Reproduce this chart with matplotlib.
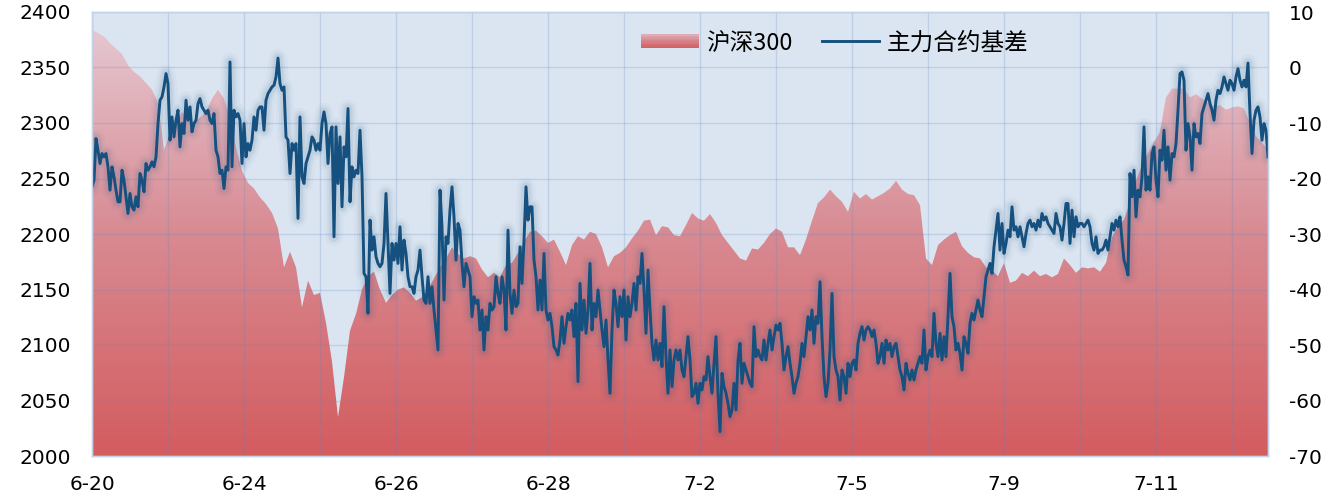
import numpy as np
import matplotlib
matplotlib.use("Agg")
import matplotlib.pyplot as plt
from matplotlib.colors import LinearSegmentedColormap
from matplotlib.patches import Rectangle
from matplotlib.legend_handler import HandlerBase

# ---------------- data ----------------
tick_labels = ['6-20', '6-24', '6-26', '6-28', '7-2', '7-5', '7-9', '7-11']
n_days = 15.47          # trading days covered (6-20 open ... 7-12 morning)

series_names = ['沪深300', '主力合约基差']

hs300 = [
    2384, 2381, 2378, 2372, 2367, 2362, 2352, 2346, 2342, 2336,
    2330, 2318, 2276, 2290, 2300, 2310, 2304, 2300, 2305, 2310,
    2322, 2330, 2322, 2305, 2278, 2257, 2246, 2241, 2233, 2227,
    2219, 2205, 2170, 2184, 2170, 2134, 2158, 2145, 2147, 2120,
    2085, 2035, 2071, 2113, 2128, 2150, 2162, 2166, 2150, 2138,
    2145, 2150, 2152, 2147, 2140, 2143, 2150, 2160, 2170, 2178,
    2188, 2182, 2178, 2180, 2178, 2168, 2161, 2165, 2161, 2172,
    2174, 2183, 2193, 2202, 2203, 2198, 2192, 2195, 2184, 2172,
    2190, 2198, 2195, 2202, 2200, 2188, 2170, 2180, 2183, 2188,
    2196, 2203, 2212, 2213, 2199, 2207, 2206, 2199, 2198, 2208,
    2219, 2214, 2212, 2218, 2210, 2199, 2192, 2185, 2178, 2176,
    2187, 2186, 2192, 2200, 2205, 2202, 2188, 2188, 2181, 2195,
    2212, 2228, 2233, 2240, 2234, 2229, 2220, 2238, 2232, 2236,
    2231, 2234, 2237, 2241, 2248, 2240, 2236, 2235, 2226, 2178,
    2172, 2190, 2195, 2199, 2202, 2189, 2183, 2179, 2178, 2170,
    2167, 2162, 2174, 2156, 2158, 2165, 2162, 2167, 2162, 2164,
    2161, 2164, 2178, 2172, 2165, 2170, 2169, 2170, 2166, 2174,
    2197, 2207, 2213, 2228, 2248, 2262, 2273, 2283, 2292, 2323,
    2331, 2331, 2331, 2323, 2326, 2322, 2318, 2315, 2316, 2312,
    2314, 2315, 2313, 2300, 2288, 2282, 2276,
]

basis = [
    # 6-20 .. 6-24
    -21.5, -20.3, -12.8, -14.9, -17.3, -15.5, -16.1, -15.5, -17.9, -22.1,
    -17.9, -19.7, -22.1, -24.2, -24.2, -18.5, -20.3, -23.3, -26.3, -22.7,
    -25.1, -25.7, -23.3, -25.1, -19.1, -20.3, -22.4, -17.3, -18.5, -17.9,
    -17.0, -17.9, -16.1, -10.1, -5.9, -5.3, -3.5, -1.1, -2.9, -13.1,
    -8.9, -12.5, -9.5, -7.7, -14.3, -10.1, -11.9, -5.9, -9.5, -7.1,
    -11.6, -10.1, -9.5, -6.5, -5.6, -7.1, -7.7, -8.3, -7.7, -9.5,
    -10.1, -8.3, -14.9, -16.1, -19.1, -18.5, -21.8, -17.9, -18.5, 1.0,
    -17.9, -7.7, -8.9, -8.3, -9.5, -17.3, -10.1, -16.1, -13.7, -14.9,
    -13.1, -8.9, -11.3, -7.7, -7.1, -7.1, -11.3, -5.9, -4.7, -4.1,
    -3.5, -3.2, -1.7, 1.7, -2.9, -4.1, -3.5, -12.5,
    # 6-24 .. 6-27
    -13.1, -19.1, -13.7, -14.9, -13.7, -27.2, -8.9, -19.7, -20.9, -17.3,
    -16.1, -14.9, -12.5, -13.1, -14.9, -13.7, -14.9, -10.1, -8.0, -10.1,
    -17.3, -11.9, -10.7, -30.5, -10.7, -20.9, -12.5, -25.1, -14.3, -16.1,
    -7.4, -24.2, -17.9, -19.7, -18.5, -19.1, -11.3, -19.7, -37.1, -37.7,
    -44.3, -27.5, -32.9, -30.5, -34.1, -35.3, -35.9, -35.3, -31.7, -22.7,
    -31.7, -40.7, -31.7, -34.7, -31.7, -35.3, -28.7, -36.5, -31.1, -33.5,
    -37.7, -39.5, -39.5, -40.7, -37.7, -36.5, -32.9, -37.7, -41.9, -42.5,
    -37.7, -42.5, -39.5, -43.7, -47.3, -50.9, -22.1, -28.7, -41.9, -30.5,
    -31.7, -25.7, -21.5, -26.9, -34.7, -28.1, -29.3, -35.3, -39.5, -35.3,
    -36.5, -37.7, -44.9, -41.3, -42.5, -41.9,
    # 6-27 .. 7-1
    -47.3, -43.7, -50.9, -44.9, -47.3, -42.5, -43.7, -43.1, -37.7, -40.7,
    -42.5, -37.7, -40.1, -47.3, -29.3, -40.7, -44.3, -40.1, -43.1, -42.5,
    -32.3, -38.9, -31.1, -21.5, -27.5, -25.1, -25.1, -34.7, -37.7, -43.7,
    -38.3, -43.7, -33.5, -43.7, -45.5, -44.3, -46.7, -50.3, -50.9, -51.8,
    -49.1, -44.9, -49.7, -46.7, -44.3, -45.5, -43.7, -48.5, -42.5, -56.6,
    -38.9, -47.3, -41.9, -47.9, -43.7, -35.3, -47.3, -42.5, -44.9, -40.1,
    -43.7, -47.3, -50.3, -45.5, -52.7, -58.7, -47.3, -40.1, -42.5, -46.7,
    -41.3, -44.9, -40.1, -49.1, -41.3, -44.9, -42.5, -38.9, -43.7, -37.7,
    -38.9, -33.5, -40.1, -47.9, -36.5, -43.7, -49.7, -52.7, -49.1, -52.7,
    -49.7, -53.9, -43.1, -52.1, -58.7, -50.9, -57.5, -52.7,
    # 7-1 .. 7-4
    -50.9, -52.7, -50.9, -54.5, -55.7, -52.1, -48.5, -52.7, -59.3, -58.7,
    -56.9, -60.5, -56.9, -58.1, -55.7, -56.3, -52.1, -55.7, -58.7, -53.3,
    -48.5, -58.7, -65.6, -55.1, -57.5, -58.7, -60.5, -62.9, -61.7, -56.9,
    -61.7, -52.7, -49.7, -56.9, -53.3, -54.5, -55.7, -56.9, -57.5, -46.7,
    -52.1, -50.9, -52.1, -52.7, -49.1, -52.7, -49.7, -47.3, -50.9, -48.5,
    -46.4, -47.3, -46.1, -49.7, -54.5, -52.1, -50.3, -53.3, -55.7, -58.7,
    -56.9, -55.7, -53.3, -49.7, -52.1, -48.5, -44.9, -47.3, -43.7, -49.7,
    -44.9, -46.1, -38.6, -48.5, -55.7, -59.3, -56.9, -50.9, -40.7, -52.1,
    -54.5, -55.7, -59.9, -54.5, -55.7, -58.7, -53.3, -55.7, -53.3, -52.7,
    -54.5, -49.7, -47.9, -46.7, -49.1, -47.3, -46.7, -47.3,
    # 7-5 .. 7-9
    -48.5, -47.3, -49.7, -53.3, -52.1, -49.7, -53.3, -49.1, -50.9, -49.7,
    -52.1, -50.3, -49.7, -52.1, -54.5, -55.7, -58.1, -53.3, -55.1, -56.3,
    -54.5, -56.3, -54.5, -53.3, -52.1, -53.3, -47.3, -54.5, -52.1, -50.9,
    -52.1, -44.3, -49.7, -52.1, -47.9, -52.7, -48.5, -52.1, -44.9, -37.1,
    -44.9, -46.7, -50.9, -49.7, -51.5, -54.5, -48.5, -49.7, -51.5, -46.1,
    -44.3, -45.5, -43.7, -41.9, -43.7, -44.9, -41.3, -37.7, -36.5, -35.3,
    -37.1, -32.3, -29.3, -26.3, -32.9, -28.1, -33.5, -31.7, -29.3, -30.5,
    -25.1, -29.3, -28.7, -30.5, -28.7, -30.5, -32.3, -29.9, -28.1, -27.5,
    -28.7, -28.1, -29.3, -27.5, -28.7, -26.3, -27.5, -26.9, -28.1, -28.7,
    -29.3, -29.9, -26.3, -28.1, -28.7, -31.1, -28.1, -24.5,
    # 7-10 .. 7-12
    -24.5, -31.7, -25.7, -30.5, -26.9, -28.7, -28.1, -28.1, -28.7, -28.1,
    -27.5, -28.7, -31.7, -32.9, -30.5, -33.5, -32.9, -32.9, -32.3, -31.1,
    -32.9, -30.5, -28.1, -29.3, -27.5, -28.7, -26.9, -31.1, -34.7, -35.9,
    -37.4, -19.1, -23.3, -18.5, -26.9, -22.1, -23.3, -19.7, -10.7, -22.1,
    -19.7, -22.1, -15.5, -14.3, -20.3, -23.3, -14.9, -16.7, -11.3, -18.5,
    -14.3, -20.3, -15.5, -16.1, -13.7, -7.7, -1.1, -0.8, -2.3, -14.9,
    -10.1, -12.5, -18.5, -10.1, -12.5, -11.9, -13.7, -8.3, -7.1, -5.9,
    -4.7, -6.5, -7.7, -9.5, -5.9, -4.1, -4.7, -3.5, -1.7, -2.9,
    -4.1, -2.3, -2.9, -4.1, -1.7, -0.2, -2.3, -3.5, -2.3, -3.5,
    0.8, -8.3, -15.5, -9.5, -7.7, -7.1, -8.9, -13.1, -10.1, -11.3,
    -16.1,
]

left_ticks = [2000, 2050, 2100, 2150, 2200, 2250, 2300, 2350, 2400]
right_ticks = [-70, -60, -50, -40, -30, -20, -10, 0, 10]

# ---------------- style ----------------
BG = '#DBE5F1'
GRID = '#5F86C0'
LINE = '#15507F'
area_cmap = LinearSegmentedColormap.from_list(
    'hs', [(0.0, '#D35C5F'), (0.5, '#D88A92'), (1.0, '#E6CCD6')])

plt.rcParams['font.family'] = ['DejaVu Sans']
plt.rcParams['axes.unicode_minus'] = False

fig = plt.figure(figsize=(13.44, 5.01), dpi=100)
ax = fig.add_axes([92/1344, 1 - 456/501, (1268 - 92)/1344, (456 - 12)/501])
ax.set_facecolor(BG)

hs_t = np.linspace(0, n_days, len(hs300))
b_t = np.linspace(0, n_days, len(basis))

# gradient area
poly = ax.fill_between(hs_t, hs300, left_ticks[0], facecolor='none', lw=0)
grad = np.linspace(0, 1, 256).reshape(-1, 1)
im = ax.imshow(grad, extent=[0, n_days, left_ticks[0], left_ticks[-1]],
               origin='lower', aspect='auto', cmap=area_cmap, zorder=1,
               interpolation='bilinear')
im.set_clip_path(poly.get_paths()[0], transform=ax.transData)

ax.set_xlim(0, n_days)
ax.set_ylim(left_ticks[0], left_ticks[-1])
ax.set_yticks(left_ticks)
ax.set_xticks(np.arange(0, 2 * len(tick_labels), 2))
ax.set_xticklabels(tick_labels)
ax.set_xticks(np.arange(1, int(n_days) + 1, 2), minor=True)
ax.set_axisbelow(False)
ax.grid(True, which='both', color=GRID, alpha=0.22, lw=1.0, zorder=2)
ax.tick_params(which='both', length=0, labelsize=14.5)
ax.tick_params(axis='y', pad=15)
ax.tick_params(axis='x', pad=14)

ax2 = ax.twinx()
ax2.set_ylim(right_ticks[0], right_ticks[-1])
ax2.set_yticks(right_ticks)
ax2.tick_params(length=0, labelsize=14.5, pad=15)

# glow
for lw, a in [(13, 0.035), (9, 0.05), (6, 0.08)]:
    ax2.plot(b_t, basis, color='#2A5A86', lw=lw, alpha=a,
             solid_joinstyle='round', solid_capstyle='round')
line, = ax2.plot(b_t, basis, color=LINE, lw=2.1, solid_joinstyle='round')

for a_ in (ax, ax2):
    for s in a_.spines.values():
        s.set_color('#C3D3E8')
        s.set_linewidth(1.0)


class GradProxy:
    pass


class GradHandler(HandlerBase):
    def create_artists(self, legend, orig_handle, xdescent, ydescent,
                       width, height, fontsize, trans):
        arts = []
        n = 10
        h = height * 0.8
        y0 = -ydescent + (height - h) / 2
        for i in range(n):
            c = area_cmap(0.05 + 0.7 * (i / (n - 1)))
            r = Rectangle((-xdescent, y0 + h * i / n), width, h / n + 0.3,
                          facecolor=c, edgecolor='none', transform=trans)
            arts.append(r)
        return arts


leg = fig.legend([GradProxy(), line], series_names,
                 handler_map={GradProxy: GradHandler()},
                 loc='center left', bbox_to_anchor=(629/1344, 1 - 43/501),
                 ncol=2, frameon=False, handlelength=2.45, handleheight=0.7,
                 handletextpad=0.3, columnspacing=1.25, borderpad=0,
                 prop={'family': ['Noto Sans CJK SC', 'DejaVu Sans'], 'size': 17})

fig.savefig('out.png', dpi=100)
